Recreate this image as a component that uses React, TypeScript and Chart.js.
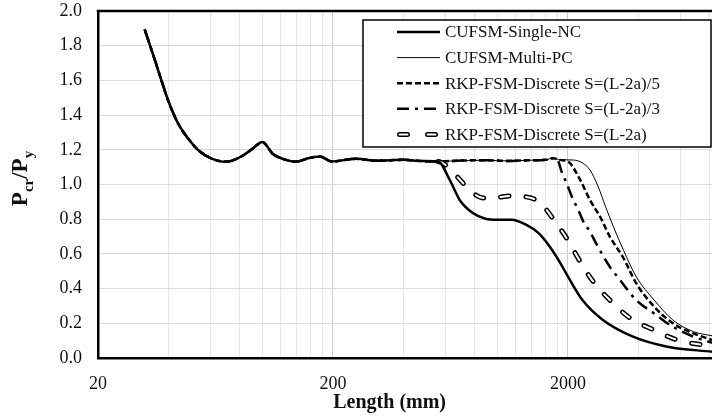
import React, { useEffect, useRef } from "react";
import { Chart, registerables } from "chart.js";

Chart.register(...registerables);

// ---- axis settings ----
const X_MIN = 20;
const X_MAX = 8200;
const Y_MIN = 0;
const Y_MAX = 2;
const Y_STEP = 0.2;

const xGridValues = [
  20, 40, 60, 80, 100, 120, 140, 160, 180, 200,
  400, 600, 800, 1000, 1200, 1400, 1600, 1800, 2000,
  4000, 6000, 8000,
];
const xLabelValues = [20, 200, 2000];

const xTitle = "Length (mm)";

const seriesLabels = [
  "CUFSM-Single-NC",
  "CUFSM-Multi-PC",
  "RKP-FSM-Discrete S=(L-2a)/5",
  "RKP-FSM-Discrete S=(L-2a)/3",
  "RKP-FSM-Discrete S=(L-2a)",
];

// ---- data (Length in mm, Pcr/Py) ----
// shared part of all curves
const commonLength = [31.6, 34.9, 37.2, 39.7, 43.8, 48.3, 53.3, 60.6, 70, 81, 91.5, 100, 111, 124, 139, 157, 176, 197, 252, 306, 400, 480, 560];
const commonRatio = [1.894, 1.718, 1.602, 1.487, 1.353, 1.266, 1.199, 1.151, 1.131, 1.16, 1.209, 1.245, 1.176, 1.145, 1.131, 1.151, 1.162, 1.133, 1.148, 1.137, 1.142, 1.135, 1.133];

// plateau shared by Multi-PC, /5 and /3
const plateauLength = [700, 900, 1100, 1400, 1600, 1730];
const plateauRatio = [1.138, 1.14, 1.136, 1.14, 1.142, 1.152];

const singleNCLength = [628, 692, 790, 890, 1000, 1150, 1330, 1500, 1677, 1850, 2000, 2304, 2816, 3782, 5298, 8200];
const singleNCRatio = [1.026, 0.911, 0.834, 0.803, 0.797, 0.797, 0.767, 0.72, 0.64, 0.55, 0.469, 0.334, 0.219, 0.123, 0.065, 0.036];

const multiPCLength = [1850, 2000, 2110, 2300, 2480, 2690, 2890, 3120, 3448, 3900, 4652, 5590, 6840, 8200];
const multiPCRatio = [1.142, 1.142, 1.141, 1.125, 1.084, 0.987, 0.872, 0.757, 0.62, 0.469, 0.334, 0.219, 0.152, 0.128];

const div5Length = [1850, 2008, 2254, 2480, 2740, 3012, 3448, 3900, 4652, 5590, 6840, 8200];
const div5Ratio = [1.142, 1.131, 1.026, 0.911, 0.814, 0.7, 0.575, 0.431, 0.296, 0.2, 0.142, 0.104];

const div3Length = [1817, 1878, 1974, 2077, 2212, 2325, 2480, 2660, 3012, 3330, 3900, 4652, 5590, 6840, 8200];
const div3Ratio = [1.135, 1.074, 1.007, 0.93, 0.853, 0.786, 0.728, 0.65, 0.526, 0.45, 0.334, 0.257, 0.18, 0.123, 0.088];

const fullLength = [610, 716, 800, 874, 1000, 1132, 1300, 1426, 1560, 1704, 1974, 2254, 2546, 3012, 3686, 4652, 5830, 7540, 8200];
const fullRatio = [1.107, 1.007, 0.945, 0.922, 0.925, 0.934, 0.93, 0.918, 0.88, 0.814, 0.69, 0.555, 0.445, 0.334, 0.229, 0.161, 0.104, 0.075, 0.068];

const FONT = "'Liberation Serif', 'Times New Roman', serif";

type Pt = { x: number; y: number };
const toPoints = (len: number[], val: number[]): Pt[] => len.map((x, i) => ({ x, y: val[i] }));

const zeroPadding = (scale: any) => {
  scale.paddingTop = 0;
  scale.paddingBottom = 0;
  scale.paddingLeft = 0;
  scale.paddingRight = 0;
};

export default function App() {
  const ref = useRef<HTMLCanvasElement>(null);

  useEffect(() => {
    document.body.style.margin = "0";
    const canvas = ref.current;
    if (!canvas) return;

    const base = toPoints(commonLength, commonRatio);
    const plateau = toPoints(plateauLength, plateauRatio);
    const singleData = [...base, ...toPoints(singleNCLength, singleNCRatio)];
    const multiData = [...base, ...plateau, ...toPoints(multiPCLength, multiPCRatio)];
    const div5Data = [...base, ...plateau, ...toPoints(div5Length, div5Ratio)];
    const div3Data = [...base, ...plateau, ...toPoints(div3Length, div3Ratio)];
    const fullData = [...base, ...toPoints(fullLength, fullRatio)];

    const lineBase = {
      pointRadius: 0,
      pointHoverRadius: 0,
      fill: false,
      cubicInterpolationMode: "monotone" as const,
      borderColor: "#000",
    };

    const hollowDash = [8.5, 17];
    const sharedEnd = commonLength[commonLength.length - 1];
    const hideShared = (c: any) => (c.p1.parsed.x <= sharedEnd ? "rgba(0,0,0,0)" : undefined);

    const legendStyles = [
      { width: 2.5, dash: [] as number[], cap: "butt" },
      { width: 1, dash: [] as number[], cap: "butt" },
      { width: 2.5, dash: [6, 3], cap: "butt" },
      { width: 2.5, dash: [12, 6, 3, 6], cap: "butt" },
      { width: 5, dash: [8, 20], cap: "round", hollow: true },
    ];

    const decor = {
      id: "decor",
      afterDatasetsDraw(chart: any) {
        const { ctx, chartArea: ca } = chart;
        ctx.save();
        // top frame line
        ctx.strokeStyle = "#000";
        ctx.lineWidth = 2.5;
        ctx.beginPath();
        ctx.moveTo(ca.left - 1.25, ca.top);
        ctx.lineTo(ca.right, ca.top);
        ctx.stroke();

        // legend box
        const bw = 348;
        const bh = 127;
        const bx = ca.right - bw - 1;
        const by = ca.top + 9;
        ctx.fillStyle = "#fff";
        ctx.fillRect(bx, by, bw, bh);
        ctx.lineWidth = 1.5;
        ctx.strokeStyle = "#000";
        ctx.strokeRect(bx, by, bw, bh);

        ctx.font = `17px ${FONT}`;
        ctx.textBaseline = "middle";
        ctx.textAlign = "left";
        seriesLabels.forEach((label, i) => {
          const y = by + 12 + i * 25.6;
          const x0 = bx + 34;
          const x1 = bx + 77;
          const st = legendStyles[i];
          const inset = st.cap === "round" ? st.width / 2 : 0;
          ctx.beginPath();
          ctx.moveTo(x0 + inset, y);
          ctx.lineTo(x1 - inset, y);
          ctx.lineWidth = st.width;
          ctx.lineCap = st.cap;
          ctx.setLineDash(st.dash);
          ctx.strokeStyle = "#000";
          ctx.stroke();
          if ((st as any).hollow) {
            ctx.lineWidth = 2;
            ctx.strokeStyle = "#fff";
            ctx.stroke();
          }
          ctx.setLineDash([]);
          ctx.fillStyle = "#111";
          ctx.fillText(label, bx + 82, y + 1);
        });
        ctx.restore();
      },
      afterDraw(chart: any) {
        const { ctx, chartArea: ca } = chart;
        ctx.save();
        ctx.fillStyle = "#111";
        // x title
        ctx.font = `bold 20px ${FONT}`;
        ctx.textAlign = "center";
        ctx.textBaseline = "middle";
        ctx.fillText(xTitle, ca.left + (ca.right - ca.left) * 0.475, ca.bottom + 45);

        // y title with subscripts: P_cr / P_y
        const parts = [
          { t: "P", size: 23, dy: 0 },
          { t: "cr", size: 15, dy: 6 },
          { t: "/P", size: 23, dy: 0 },
          { t: "y", size: 15, dy: 6 },
        ];
        let total = 0;
        parts.forEach((p) => {
          ctx.font = `bold ${p.size}px ${FONT}`;
          total += ctx.measureText(p.t).width;
        });
        ctx.translate(27, (ca.top + ca.bottom) / 2 - 6);
        ctx.rotate(-Math.PI / 2);
        ctx.textAlign = "left";
        ctx.textBaseline = "alphabetic";
        let cx = -total / 2;
        parts.forEach((p) => {
          ctx.font = `bold ${p.size}px ${FONT}`;
          ctx.fillText(p.t, cx, p.dy);
          cx += ctx.measureText(p.t).width;
        });
        ctx.restore();
      },
    };

    const chart = new Chart(canvas, {
      type: "line",
      data: {
        datasets: [
          { ...lineBase, label: seriesLabels[0], data: singleData, borderWidth: 2.5, order: 0 },
          { ...lineBase, label: seriesLabels[1], data: multiData, borderWidth: 1, order: 5 },
          { ...lineBase, label: seriesLabels[2], data: div5Data, borderWidth: 2.5, borderDash: [6, 3], order: 4 },
          { ...lineBase, label: seriesLabels[3], data: div3Data, borderWidth: 2.5, borderDash: [12, 6, 3, 6], order: 3 },
          { ...lineBase, label: seriesLabels[4], data: fullData, borderWidth: 5, borderDash: hollowDash, borderCapStyle: "round", order: 2, segment: { borderColor: hideShared } },
          { ...lineBase, label: seriesLabels[4] + " (inner)", data: fullData, borderWidth: 2, borderColor: "#fff", borderDash: hollowDash, borderCapStyle: "round", order: 1, segment: { borderColor: hideShared } },
        ] as any,
      },
      plugins: [decor],
      options: {
        responsive: false,
        animation: false,
        devicePixelRatio: 1,
        layout: { padding: { top: 11, right: 0, bottom: 0, left: 0 } },
        plugins: {
          legend: { display: false },
          tooltip: { enabled: false },
          title: { display: false },
        },
        scales: {
          x: {
            type: "logarithmic",
            min: X_MIN,
            max: X_MAX,
            afterBuildTicks: (scale: any) => {
              scale.ticks = xGridValues.map((v) => ({ value: v }));
            },
            afterFit: (scale: any) => {
              scale.height = 61;
              zeroPadding(scale);
            },
            ticks: {
              autoSkip: false,
              maxRotation: 0,
              padding: 15,
              color: "#111",
              font: { family: FONT, size: 18 },
              callback: (v: any) => (xLabelValues.includes(Number(v)) ? String(v) : ""),
            },
            grid: {
              drawTicks: false,
              color: (c: any) => (c.tick && xLabelValues.includes(c.tick.value) ? "#cdcdcd" : "#e6e6e6"),
              lineWidth: 1,
            },
            border: { display: true, color: "#000", width: 2.5 },
          },
          y: {
            type: "linear",
            min: Y_MIN,
            max: Y_MAX,
            afterFit: (scale: any) => {
              scale.width = 98;
              zeroPadding(scale);
            },
            ticks: {
              stepSize: Y_STEP,
              padding: 16,
              color: "#111",
              font: { family: FONT, size: 18 },
              callback: (v: any) => Number(v).toFixed(1),
            },
            grid: { drawTicks: false, color: "#dadada", lineWidth: 1 },
            border: { display: true, color: "#000", width: 2.5 },
          },
        },
      } as any,
    });

    return () => chart.destroy();
  }, []);

  return (
    <div style={{ width: 712, height: 419, background: "#fff" }}>
      <canvas ref={ref} width={712} height={419} style={{ display: "block" }} />
    </div>
  );
}
